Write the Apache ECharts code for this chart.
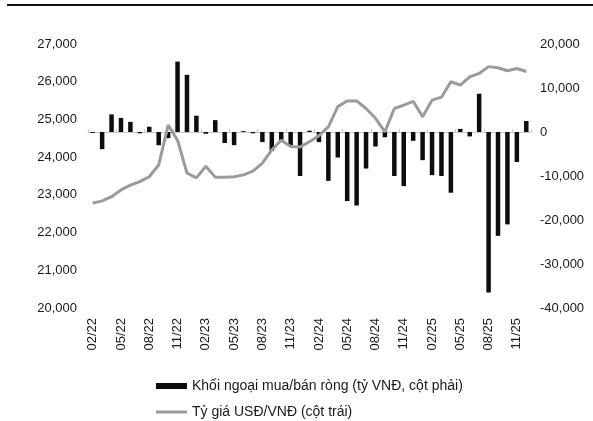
<!DOCTYPE html>
<html>
<head>
<meta charset="utf-8">
<script src="https://cdn.jsdelivr.net/npm/echarts@6/dist/echarts.min.js"></script>
<style>
html,body{margin:0;padding:0;background:#fff;}
#c{width:593px;height:421px;}
</style>
</head>
<body>
<div id="c"></div>
<script>
const months = ["02/22","03/22","04/22","05/22","06/22","07/22","08/22","09/22","10/22","11/22","12/22",
  "01/23","02/23","03/23","04/23","05/23","06/23","07/23","08/23","09/23","10/23","11/23","12/23",
  "01/24","02/24","03/24","04/24","05/24","06/24","07/24","08/24","09/24","10/24","11/24","12/24",
  "01/25","02/25","03/25","04/25","05/25","06/25","07/25","08/25","09/25","10/25","11/25","12/25"];
const netForeign = [-200,-3900,4000,3200,2300,-300,1200,-3000,-1400,16000,13000,
  3700,-400,2700,-2500,-3000,200,-300,-2300,-4300,-2000,-3000,-10000,
  300,-2300,-11100,-5800,-15700,-16700,-8300,-3300,-1200,-10000,-12300,-2000,
  -6400,-9800,-10000,-13800,700,-1000,8700,-36500,-23600,-21000,-6800,2500];
const usdVnd = [22780,22840,22950,23130,23260,23350,23480,23790,24850,24450,23580,
  23450,23760,23470,23470,23480,23530,23630,23840,24190,24450,24280,24270,
  24410,24570,24800,25340,25490,25490,25290,25030,24670,25290,25380,25480,
  25070,25510,25590,26000,25910,26130,26220,26400,26370,26290,26350,26270];
const barName = "Khối ngoại mua/bán ròng (tỷ VNĐ, cột phải)";
const lineName = "Tỷ giá USĐ/VNĐ (cột trái)";

const FONT = "'Liberation Sans', Arial, sans-serif";
const legendText = {fontSize:14, color:'#1a1a1a', fontFamily:FONT};
const chart = echarts.init(document.getElementById('c'), null, {renderer:'canvas'});
chart.setOption({
  backgroundColor:'#fff',
  animation:false,
  textStyle:{fontFamily:FONT},
  graphic:[{type:'line', shape:{x1:7,y1:5,x2:593,y2:5}, style:{stroke:'#111', lineWidth:2}}],
  grid:{left:88, right:62, top:44, bottom:113},
  legend:[
    {orient:'horizontal', left:151, top:374, itemWidth:31, itemHeight:6, itemGap:4,
     textStyle:legendText, data:[{name:barName, icon:'rect'}]},
    {orient:'horizontal', left:151, top:400, itemWidth:31, itemHeight:3, itemGap:4,
     textStyle:legendText, data:[{name:lineName, icon:'rect'}]}
  ],
  xAxis:{
    type:'category', data:months, boundaryGap:true,
    axisLine:{lineStyle:{color:'#c8c8c8', width:1}},
    axisTick:{show:true, inside:true, length:3, lineStyle:{color:'#c8c8c8'}},
    axisLabel:{interval:2, rotate:90, fontSize:13, color:'#1a1a1a', margin:10, fontFamily:FONT}
  },
  yAxis:[
    {type:'value', min:20000, max:27000, interval:1000, position:'left',
     splitLine:{show:false}, axisLine:{show:false}, axisTick:{show:false},
     axisLabel:{fontSize:13, color:'#1a1a1a', margin:11, fontFamily:FONT}},
    {type:'value', min:-40000, max:20000, interval:10000, position:'right',
     splitLine:{show:false}, axisLine:{show:false}, axisTick:{show:false},
     axisLabel:{fontSize:13, color:'#1a1a1a', margin:9, fontFamily:FONT}}
  ],
  series:[
    {name:barName, type:'bar', yAxisIndex:1, data:netForeign, barWidth:4.5,
     itemStyle:{color:'#0d0d0d'}},
    {name:lineName, type:'line', yAxisIndex:0, data:usdVnd, symbol:'none',
     lineStyle:{color:'#9b9b9b', width:3}, itemStyle:{color:'#9b9b9b'}, z:3}
  ]
});
</script>
</body>
</html>
